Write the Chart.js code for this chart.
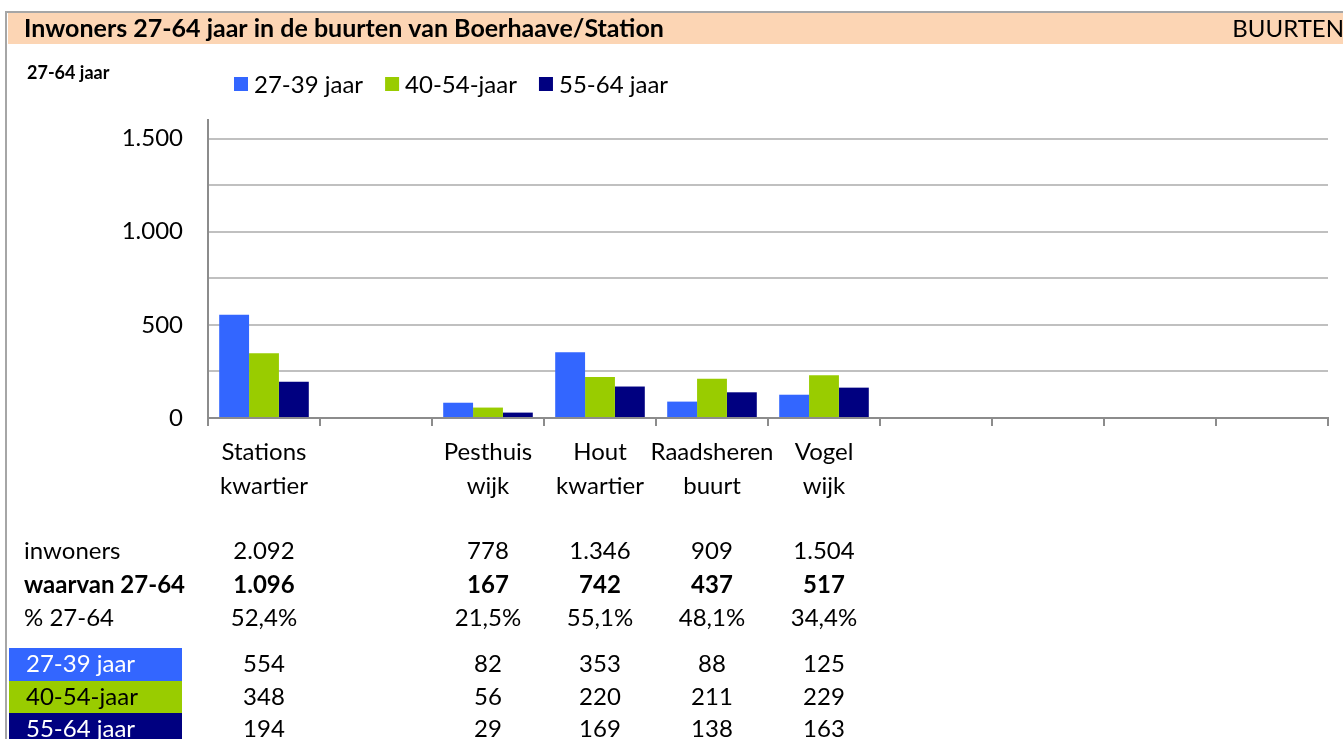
<!DOCTYPE html>
<html>
<head>
<meta charset="utf-8">
<script src="https://cdn.jsdelivr.net/npm/chart.js@4/dist/chart.umd.min.js"></script>
<style>
  html, body { margin: 0; padding: 0; background: #ffffff; }
  canvas { display: block; }
</style>
</head>
<body>
<canvas id="c" width="1343" height="739"></canvas>
<script>
// Neighbourhoods (two-line axis labels); empty slots keep the grid of ten columns
const buurten = [
  ['Stations', 'kwartier'], '', ['Pesthuis', 'wijk'], ['Hout', 'kwartier'],
  ['Raadsheren', 'buurt'], ['Vogel', 'wijk'], '', '', '', ''
];
const seriesNames = ['27-39 jaar', '40-54-jaar', '55-64 jaar'];
const seriesColors = ['#3366ff', '#99cc00', '#000080'];

// Residents per age band
const jaar27_39 = [554, null, 82, 353, 88, 125, null, null, null, null];
const jaar40_54 = [348, null, 56, 220, 211, 229, null, null, null, null];
const jaar55_64 = [194, null, 29, 169, 138, 163, null, null, null, null];

// Total residents per neighbourhood
const inwoners = [2092, null, 778, 1346, 909, 1504, null, null, null, null];

// Y axis: labelled ticks, gridline values and the top of the axis
const yLabelTicks = [0, 500, 1000, 1500];
const yGridLines = [0, 250, 500, 750, 1000, 1250, 1500];
const yMax = 1600;

const FONT = 'Lato';
const BODY = '24px ' + FONT;
const BODY_BOLD = 'bold 24px ' + FONT;

function fmtInt(v) {
  return String(Math.round(v)).replace(/\B(?=(\d{3})+(?!\d))/g, '.');
}
function fmtPct(v) {
  return v.toFixed(1).replace('.', ',') + '%';
}

const totals = jaar27_39.map((v, i) => v == null ? null : v + jaar40_54[i] + jaar55_64[i]);
const pct = totals.map((v, i) => v == null ? null : v / inwoners[i] * 100);

// Title bar, frame, legend and the figures table under the axis
const decorations = {
  id: 'decorations',
  beforeDraw(chart) {
    const ctx = chart.ctx;
    ctx.save();
    ctx.fillStyle = '#ffffff';
    ctx.fillRect(0, 0, chart.width, chart.height);
    // frame
    ctx.fillStyle = '#a6a6a6';
    ctx.fillRect(5, 11, chart.width - 5, 2);
    ctx.fillRect(5, 11, 2, chart.height - 11);
    // title bar
    ctx.fillStyle = '#fcd5b4';
    ctx.fillRect(8, 13, chart.width - 8, 31);
    ctx.fillStyle = '#000000';
    ctx.textBaseline = 'middle';
    ctx.font = 'bold 25px ' + FONT;
    ctx.textAlign = 'left';
    ctx.fillText('Inwoners 27-64 jaar in de buurten van Boerhaave/Station', 24, 29);
    ctx.font = BODY;
    ctx.textAlign = 'right';
    ctx.fillText('BUURTEN', chart.width + 1, 29);
    // small axis caption
    ctx.textAlign = 'left';
    ctx.font = 'bold 18px ' + FONT;
    ctx.fillText('27-64 jaar', 27, 73);
    // legend
    ctx.font = BODY;
    let lx = 234;
    chart.data.datasets.forEach(ds => {
      ctx.fillStyle = ds.backgroundColor;
      ctx.fillRect(lx, 77, 14, 14);
      ctx.fillStyle = '#000000';
      ctx.fillText(ds.label, lx + 20, 85);
      lx += 20 + ctx.measureText(ds.label).width + 22;
    });
    ctx.restore();
  },
  afterDraw(chart) {
    const ctx = chart.ctx;
    const x = chart.scales.x;
    ctx.save();
    ctx.textBaseline = 'middle';
    // coloured row headers for the age bands
    const bandRows = [664, 697, 729];
    const bandTops = [648, 681, 713];
    const bandH = [33, 32, 33];
    const bandText = ['#ffffff', '#000000', '#ffffff'];
    ctx.font = BODY;
    ctx.textAlign = 'left';
    seriesNames.forEach((name, k) => {
      ctx.fillStyle = seriesColors[k];
      ctx.fillRect(9, bandTops[k], 173, bandH[k]);
      ctx.fillStyle = bandText[k];
      ctx.fillText(name, 26, bandRows[k]);
    });
    ctx.fillStyle = '#000000';
    ctx.font = BODY;
    ctx.fillText('inwoners', 24, 551);
    ctx.font = BODY_BOLD;
    ctx.fillText('waarvan 27-64', 24, 585);
    ctx.font = BODY;
    ctx.fillText('% 27-64', 24, 618);

    ctx.textAlign = 'center';
    const bands = [jaar27_39, jaar40_54, jaar55_64];
    inwoners.forEach((v, i) => {
      if (v == null) return;
      const cx = x.getPixelForValue(i);
      ctx.font = BODY;
      ctx.fillText(fmtInt(v), cx, 551);
      ctx.font = BODY_BOLD;
      ctx.fillText(fmtInt(totals[i]), cx, 585);
      ctx.font = BODY;
      ctx.fillText(fmtPct(pct[i]), cx, 618);
      bands.forEach((arr, k) => ctx.fillText(fmtInt(arr[i]), cx, bandRows[k]));
    });
    ctx.restore();
  }
};

new Chart(document.getElementById('c'), {
  type: 'bar',
  data: {
    labels: buurten,
    datasets: [
      { label: seriesNames[0], data: jaar27_39, backgroundColor: seriesColors[0] },
      { label: seriesNames[1], data: jaar40_54, backgroundColor: seriesColors[1] },
      { label: seriesNames[2], data: jaar55_64, backgroundColor: seriesColors[2] }
    ]
  },
  options: {
    responsive: false,
    animation: false,
    devicePixelRatio: 1,
    layout: { padding: { left: 0, top: 120, right: 15, bottom: 0 } },
    datasets: { bar: { categoryPercentage: 0.8, barPercentage: 1.0 } },
    plugins: { legend: { display: false }, tooltip: { enabled: false } },
    scales: {
      x: {
        afterFit(scale) { scale.height = 321; },
        grid: {
          offset: true, drawOnChartArea: false, drawTicks: true,
          tickLength: 8, color: '#8c8c8c', lineWidth: 2
        },
        border: { display: true, color: '#8c8c8c', width: 2 },
        ticks: {
          color: '#000000', padding: 9, maxRotation: 0, autoSkip: false,
          font: { family: FONT, size: 24, lineHeight: '34px' }
        }
      },
      y: {
        min: 0, max: yMax,
        afterFit(scale) { scale.width = 208; },
        afterBuildTicks(scale) {
          scale.ticks = yGridLines.map(v => ({ value: v }));
        },
        grid: { color: '#c0c0c0', lineWidth: 2, drawTicks: false },
        border: { display: true, color: '#8c8c8c', width: 2 },
        ticks: {
          padding: 25, color: '#000000',
          font: { family: FONT, size: 24 },
          callback: v => yLabelTicks.includes(v) ? fmtInt(v) : ''
        }
      }
    }
  },
  plugins: [decorations]
});
</script>
</body>
</html>
